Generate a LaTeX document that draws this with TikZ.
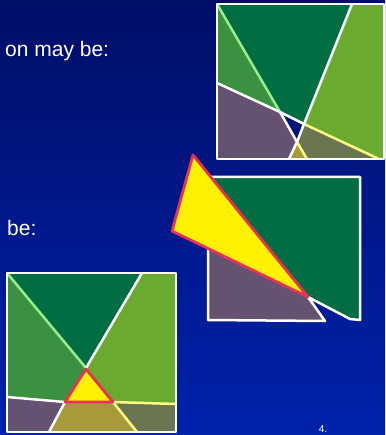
\documentclass[tikz,border=0pt]{standalone}
\usepackage{fontspec}
\setmainfont{Liberation Sans}
\usepackage{xcolor}
\definecolor{navytop}{RGB}{0,14,104}
\definecolor{navybot}{RGB}{0,34,172}
\definecolor{darkgreen}{RGB}{0,110,66}
\definecolor{midgreen}{RGB}{58,146,64}
\definecolor{lightgreen}{RGB}{106,170,46}
\definecolor{purplegray}{RGB}{100,82,112}
\definecolor{grayolive}{RGB}{106,118,82}
\definecolor{gold}{RGB}{168,154,58}
\definecolor{paleline}{RGB}{150,238,140}
\definecolor{paleyellow}{RGB}{255,255,130}
\definecolor{redrim}{RGB}{232,48,88}

\begin{document}
\begin{tikzpicture}[
        x=1pt, y=-1pt,
        cut/.style={white, line width=2.5pt, line join=round},
        greencut/.style={paleline, line width=2.5pt},
        yellowcut/.style={paleyellow, line width=2.5pt},
        hole/.style={fill=yellow, draw=redrim, line width=2.8pt, line join=round},
        caption/.style={text=white, font=\fontsize{21}{25}\selectfont, anchor=base west, inner sep=0pt}
    ]
        % Background
        \shade[top color=navytop, bottom color=navybot] (0,0) rectangle (385,435);
        \useasboundingbox (0,0) rectangle (385,435);

        % Texts
        \node[caption] (txtA) at (5,57) {on may be:};
        \node[caption] (txtB) at (7,235) {be:};
        \node[text=white, font=\fontsize{10}{12}\selectfont, anchor=base, inner sep=0pt] (page) at (323,432) {4.};

        % Top square
        \coordinate (A1) at (217,4);   \coordinate (A2) at (352,4);
        \coordinate (A3) at (384,4);   \coordinate (A4) at (384,159);
        \coordinate (A5) at (217,159); \coordinate (L1) at (217,83);
        \coordinate (P) at (280,112);  \coordinate (Q) at (304,124);
        \coordinate (R) at (297,142);  \coordinate (S) at (289,159);
        \coordinate (T) at (307,159);  \coordinate (U) at (379,159);
        \fill[darkgreen] (A1) -- (A2) -- (Q) -- (P) -- cycle;
        \fill[midgreen] (A1) -- (P) -- (L1) -- cycle;
        \fill[purplegray] (L1) -- (P) -- (R) -- (S) -- (A5) -- cycle;
        \fill[lightgreen] (A2) -- (A3) -- (A4) -- (U) -- (Q) -- cycle;
        \fill[grayolive] (Q) -- (U) -- (T) -- (R) -- cycle;
        \fill[gold] (R) -- (T) -- (S) -- cycle;
        \draw[greencut] (A1) -- (P);
        \draw[yellowcut] (Q) -- (U);
        \draw[yellowcut] (R) -- (T);
        \draw[cut] (L1) -- (P) -- (Q);
        \draw[cut] (P) -- (R) -- (S);
        \draw[cut] (A2) -- (Q) -- (R);
        \draw[cut] (A1) rectangle (A4);

        % Middle square with cut-out wedge
        \coordinate (B1) at (208,177); \coordinate (B2) at (360,177);
        \coordinate (B3) at (360,320); \coordinate (B4) at (350,319);
        \coordinate (B5) at (325,321); \coordinate (B6) at (208,320);
        \coordinate (V) at (308,297);
        \coordinate (Y1) at (193,155); \coordinate (Y2) at (172,231);
        \fill[darkgreen] (B1) -- (B2) -- (B3) -- (B4) -- (V) -- cycle;
        \fill[purplegray] (B1) -- (V) -- (B5) -- (B6) -- cycle;
        \draw[cut] (B1) -- (B2) -- (B3) -- (B4) -- (V) -- (B5) -- (B6) -- cycle;
        \draw[hole] (Y1) -- (Y2) -- (V) -- cycle;

        % Bottom square
        \coordinate (C1) at (7,273);   \coordinate (C2) at (142,273);
        \coordinate (C3) at (176,273); \coordinate (C4) at (176,432);
        \coordinate (C5) at (7,432);   \coordinate (M) at (86,368);
        \coordinate (K1) at (7,397);   \coordinate (K2) at (176,404);
        \coordinate (Ta) at (86,369);  \coordinate (Tl) at (65,402);
        \coordinate (Tr) at (113,402); \coordinate (D1) at (49,432);
        \coordinate (D2) at (137,432);
        \fill[darkgreen] (C1) -- (C2) -- (M) -- cycle;
        \fill[midgreen] (C1) -- (M) -- (Tl) -- (K1) -- cycle;
        \fill[lightgreen] (C2) -- (C3) -- (K2) -- (Tr) -- (M) -- cycle;
        \fill[purplegray] (K1) -- (Tl) -- (D1) -- (C5) -- cycle;
        \fill[gold] (Tl) -- (Tr) -- (D2) -- (D1) -- cycle;
        \fill[grayolive] (Tr) -- (K2) -- (C4) -- (D2) -- cycle;
        \draw[greencut] (C1) -- (M);
        \draw[cut] (C2) -- (M);
        \draw[cut] (K1) -- (Tl) -- (D1);
        \draw[yellowcut] (Tr) -- (K2);
        \draw[yellowcut] (Tr) -- (D2);
        \draw[cut] (C1) rectangle (C4);
        \draw[hole] (Ta) -- (Tl) -- (Tr) -- cycle;
    \end{tikzpicture}
\end{document}
